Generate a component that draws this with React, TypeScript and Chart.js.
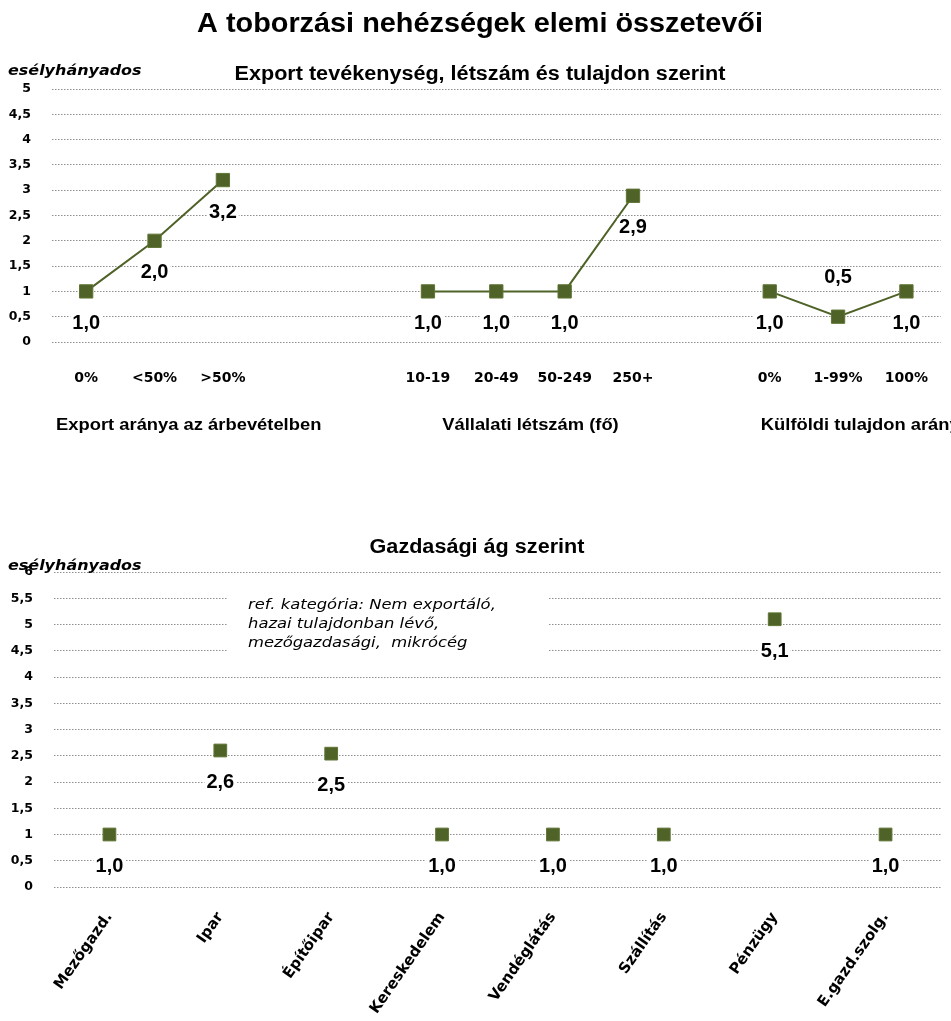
import React, { useEffect, useRef } from 'react';
import { Chart, registerables } from 'chart.js';

Chart.register(...registerables);

// ---------- data ----------
const mainTitle = 'A toborzási nehézségek elemi összetevői';
const yAxisTitle = 'esélyhányados';

const topSubtitle = 'Export tevékenység, létszám és tulajdon szerint';
const topCategories = ['0%', '<50%', '>50%', '', '', '10-19', '20-49', '50-249', '250+', '', '0%', '1-99%', '100%'];
const topValues: (number | null)[] = [1.0, 2.0, 3.2, null, null, 1.0, 1.0, 1.0, 2.89, null, 1.0, 0.5, 1.0];
const topGroupLabels = ['Export aránya az árbevételben', 'Vállalati létszám (fő)', 'Külföldi tulajdon aránya'];
const topGroupCenters = [1.5, 6.5, 11.4]; // in category-index units
const topLabelsAbove = [11];
const topYMax = 5;

const bottomSubtitle = 'Gazdasági ág szerint';
const bottomCategories = ['Mezőgazd.', 'Ipar', 'Építőipar', 'Kereskedelem', 'Vendéglátás', 'Szállítás', 'Pénzügy', 'E.gazd.szolg.'];
const bottomValues = [1.0, 2.6, 2.54, 1.0, 1.0, 1.0, 5.1, 1.0];
const bottomYMax = 6;
const refNote = ['ref. kategória: Nem exportáló,', 'hazai tulajdonban lévő,', 'mezőgazdasági,  mikrócég'];

const yStep = 0.5;

// ---------- style ----------
const OLIVE = '#4F6228';
const OLIVE_EDGE = '#5F7534';
const GRID = '#8f8f8f';
const TXT = "'Liberation Sans', Arial, sans-serif";
const NUM = "'DejaVu Sans', sans-serif";

const fmtTick = (v: number) => String(Math.round(v * 10) / 10).replace('.', ',');
const fmtVal = (v: number) => v.toFixed(1).replace('.', ',');

function drawText(
  ctx: CanvasRenderingContext2D,
  text: string,
  x: number,
  y: number,
  font: string,
  align: 'left' | 'center' | 'right',
  sx = 1,
) {
  ctx.save();
  ctx.font = font;
  ctx.fillStyle = '#000';
  ctx.textBaseline = 'middle';
  ctx.textAlign = 'left';
  const w = ctx.measureText(text).width * sx;
  const left = align === 'center' ? x - w / 2 : align === 'right' ? x - w : x;
  ctx.translate(left, y);
  ctx.scale(sx, 1);
  ctx.fillText(text, 0, 0);
  ctx.restore();
}

function valueLabels(above: number[]) {
  return {
    id: 'valueLabels',
    afterDatasetsDraw(chart: any) {
      const ctx: CanvasRenderingContext2D = chart.ctx;
      const meta = chart.getDatasetMeta(0);
      const values = chart.data.datasets[0].data as (number | null)[];
      ctx.save();
      ctx.font = `bold 20px ${TXT}`;
      ctx.textAlign = 'center';
      ctx.textBaseline = 'middle';
      meta.data.forEach((pt: any, i: number) => {
        const v = values[i];
        if (v == null) return;
        const isAbove = above.includes(i);
        const y = isAbove ? pt.y - 39 : pt.y + 32;
        const t = fmtVal(v);
        const w = ctx.measureText(t).width;
        ctx.fillStyle = '#fff';
        ctx.fillRect(pt.x - w / 2 - 2, y - 9, w + 4, 18);
        ctx.fillStyle = '#000';
        ctx.fillText(t, pt.x, y);
      });
      ctx.restore();
    },
  };
}

function baseScales(yMax: number, yWidth: number, xHeight: number, xTicks: any) {
  return {
    x: {
      type: 'category',
      offset: true,
      grid: { display: false, drawTicks: false },
      border: { display: false },
      ticks: { color: '#000', autoSkip: false, ...xTicks },
      afterFit: (s: any) => {
        s.height = xHeight;
        s.paddingLeft = 0;
        s.paddingRight = 0;
      },
    },
    y: {
      min: 0,
      max: yMax,
      grid: { color: GRID, lineWidth: 1, drawTicks: false, borderDash: [1.5, 1.5] },
      border: { display: false, dash: [1.5, 1.5] },
      ticks: {
        stepSize: yStep,
        color: '#000',
        padding: 21,
        font: { family: NUM, weight: 'bold', size: 12.5 },
        callback: (v: any) => fmtTick(Number(v)),
      },
      afterFit: (s: any) => {
        s.width = yWidth;
      },
    },
  };
}

function TopChart() {
  const ref = useRef<HTMLCanvasElement | null>(null);
  useEffect(() => {
    if (!ref.current) return;
    const decor = {
      id: 'topDecor',
      afterDraw(chart: any) {
        const ctx: CanvasRenderingContext2D = chart.ctx;
        drawText(ctx, mainTitle, 480, 24, `bold 28px ${TXT}`, 'center', 1.03);
        drawText(ctx, topSubtitle, 480, 74, `bold 20px ${TXT}`, 'center', 1.08);
        drawText(ctx, yAxisTitle, 8, 71, `italic bold 14px ${NUM}`, 'left', 1.14);
        const xs = chart.scales.x;
        topGroupLabels.forEach((g, i) => {
          const cx = xs.getPixelForValue(topGroupCenters[i]);
          drawText(ctx, g, cx, 425, `bold 17px ${TXT}`, 'center', 1.08);
        });
      },
    };
    const chart = new Chart(ref.current, {
      type: 'line',
      data: {
        labels: topCategories,
        datasets: [
          {
            data: topValues,
            borderColor: OLIVE,
            backgroundColor: OLIVE,
            borderWidth: 2,
            pointStyle: 'rect',
            pointRadius: 9.4,
            pointHoverRadius: 9.4,
            pointBackgroundColor: OLIVE,
            pointBorderColor: OLIVE_EDGE,
            pointBorderWidth: 1,
            spanGaps: false,
            tension: 0,
          },
        ],
      },
      options: {
        responsive: false,
        animation: false,
        devicePixelRatio: 1,
        events: [],
        layout: { padding: { top: 89, left: 8, right: 2, bottom: 0 } },
        plugins: { legend: { display: false }, tooltip: { enabled: false }, title: { display: false } },
        scales: baseScales(topYMax, 44, 118, {
          padding: 28,
          maxRotation: 0,
          minRotation: 0,
          font: { family: NUM, weight: 'bold', size: 14 },
        }) as any,
      },
      plugins: [valueLabels(topLabelsAbove), decor],
    } as any);
    return () => chart.destroy();
  }, []);
  return <canvas ref={ref} width={951} height={460} style={{ display: 'block' }} />;
}

function BottomChart() {
  const ref = useRef<HTMLCanvasElement | null>(null);
  useEffect(() => {
    if (!ref.current) return;
    const decor = {
      id: 'bottomDecor',
      beforeDatasetsDraw(chart: any) {
        const ctx: CanvasRenderingContext2D = chart.ctx;
        ctx.save();
        ctx.fillStyle = '#fff';
        ctx.fillRect(228, 128, 320, 74);
        ctx.restore();
        refNote.forEach((line, i) => {
          drawText(ctx, line, 248, 145 + i * 19, `italic 14px ${NUM}`, 'left', 1.17);
        });
      },
      afterDraw(chart: any) {
        const ctx: CanvasRenderingContext2D = chart.ctx;
        drawText(ctx, bottomSubtitle, 477, 87, `bold 20px ${TXT}`, 'center', 1.08);
        drawText(ctx, yAxisTitle, 8, 106, `italic bold 14px ${NUM}`, 'left', 1.14);
      },
    };
    const chart = new Chart(ref.current, {
      type: 'line',
      data: {
        labels: bottomCategories,
        datasets: [
          {
            data: bottomValues,
            showLine: false,
            borderColor: OLIVE,
            backgroundColor: OLIVE,
            pointStyle: 'rect',
            pointRadius: 9,
            pointHoverRadius: 9,
            pointBackgroundColor: OLIVE,
            pointBorderColor: OLIVE_EDGE,
            pointBorderWidth: 1,
          },
        ],
      },
      options: {
        responsive: false,
        animation: false,
        devicePixelRatio: 1,
        events: [],
        layout: { padding: { top: 112, left: 8, right: 7, bottom: 0 } },
        plugins: { legend: { display: false }, tooltip: { enabled: false }, title: { display: false } },
        scales: baseScales(bottomYMax, 46, 134, {
          padding: 22,
          maxRotation: 55,
          minRotation: 55,
          font: { family: NUM, weight: 'bold', size: 15 },
        }) as any,
      },
      plugins: [valueLabels([]), decor],
    } as any);
    return () => chart.destroy();
  }, []);
  return <canvas ref={ref} width={951} height={561} style={{ display: 'block' }} />;
}

export default function App() {
  return (
    <div style={{ position: 'absolute', left: 0, top: 0, width: 951, height: 1021, background: '#fff' }}>
      <TopChart />
      <BottomChart />
    </div>
  );
}
